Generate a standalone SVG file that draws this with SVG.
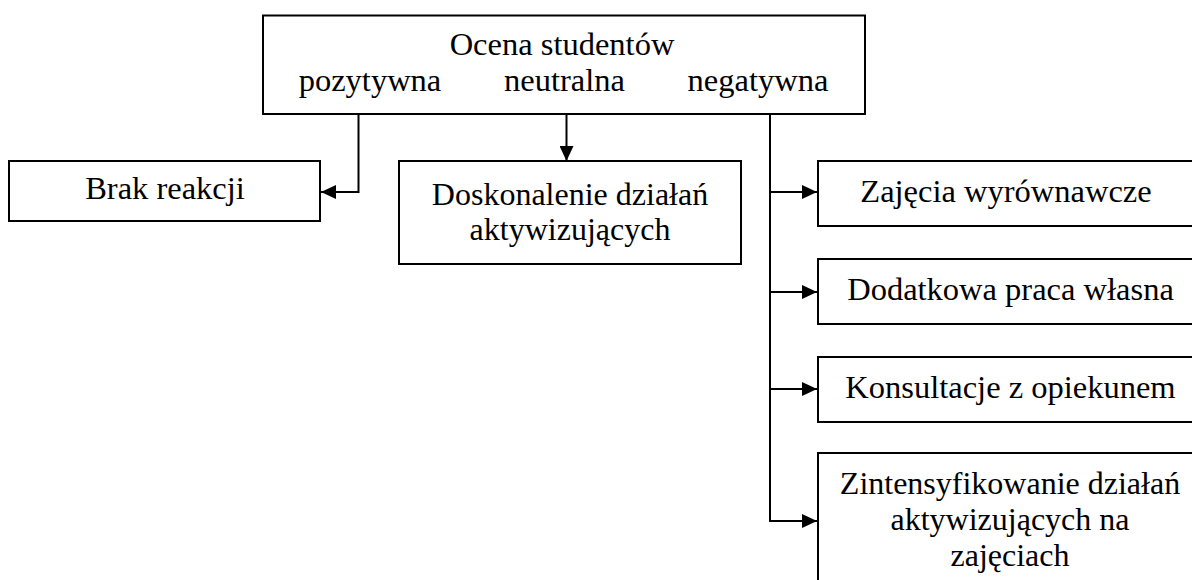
<svg xmlns="http://www.w3.org/2000/svg" width="1192" height="580" viewBox="0 0 1192 580">
<style>
.box{fill:#fff;stroke:#000;stroke-width:2}
.t{font-family:"Liberation Serif","Times New Roman",serif;font-size:32.5px;fill:#000;text-anchor:middle}
.t2{font-family:"Liberation Serif","Times New Roman",serif;font-size:32px;fill:#000;text-anchor:middle}
.c{fill:none;stroke:#000;stroke-width:2}
</style>
<defs>
<marker id="ah" markerUnits="userSpaceOnUse" markerWidth="15" markerHeight="14" refX="15" refY="7" orient="auto">
<path d="M0,0 L15,7 L0,14 Z" fill="#000"/>
</marker>
</defs>
<rect width="1192" height="580" fill="#fff"/>
<g id="connectors">
<path class="c" d="M358.5,114 V192 H321" marker-end="url(#ah)"/>
<path class="c" d="M566.5,114 V161" marker-end="url(#ah)"/>
<path class="c" d="M770,114 V521"/>
<path class="c" d="M769,192 H817" marker-end="url(#ah)"/>
<path class="c" d="M769,292 H817" marker-end="url(#ah)"/>
<path class="c" d="M769,389 H817" marker-end="url(#ah)"/>
<path class="c" d="M769,521 H817" marker-end="url(#ah)"/>
</g>
<g id="ocena">
<rect class="box" x="263" y="15.5" width="602" height="98.5"/>
<text class="t" x="562" y="55">Ocena studentów</text>
<text class="t" x="370" y="91">pozytywna</text>
<text class="t" x="564.5" y="91">neutralna</text>
<text class="t" x="758" y="91">negatywna</text>
</g>
<g id="brak">
<rect class="box" x="9" y="161" width="311" height="60"/>
<text class="t" x="165" y="199">Brak reakcji</text>
</g>
<g id="doskonalenie">
<rect class="box" x="399" y="161" width="342" height="103"/>
<text class="t2" x="570" y="205">Doskonalenie działań</text>
<text class="t2" x="570" y="240">aktywizujących</text>
</g>
<g id="zajecia">
<rect class="box" x="818" y="161" width="376" height="65"/>
<text class="t" x="1006" y="202">Zajęcia wyrównawcze</text>
</g>
<g id="dodatkowa">
<rect class="box" x="818" y="259" width="376" height="65"/>
<text class="t" x="1010.5" y="300">Dodatkowa praca własna</text>
</g>
<g id="konsultacje">
<rect class="box" x="818" y="357" width="376" height="65"/>
<text class="t" x="1010.5" y="398">Konsultacje z opiekunem</text>
</g>
<g id="zintensyfikowanie">
<rect class="box" x="818" y="453" width="376" height="140"/>
<text class="t2" x="1010" y="494">Zintensyfikowanie działań</text>
<text class="t2" x="1010" y="530">aktywizujących na</text>
<text class="t2" x="1010" y="566">zajęciach</text>
</g>
</svg>
